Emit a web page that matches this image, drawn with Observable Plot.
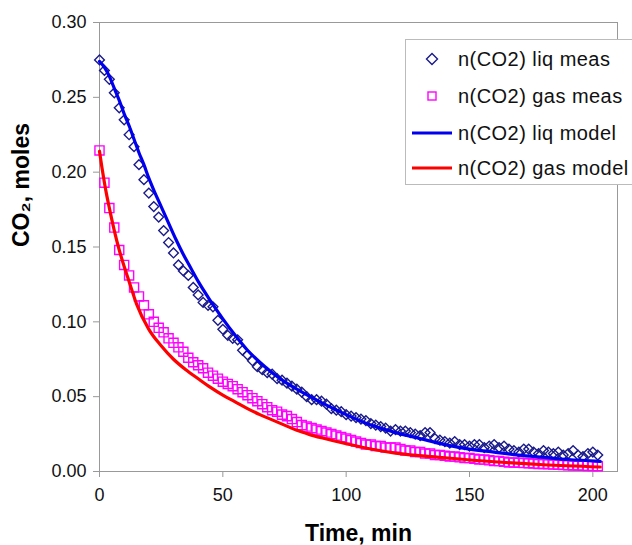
<!DOCTYPE html>
<html>
<head>
<meta charset="utf-8">
<script src="https://cdn.jsdelivr.net/npm/d3@7"></script>
<script src="https://cdn.jsdelivr.net/npm/@observablehq/plot@0.6"></script>
<style>
  html, body { margin: 0; padding: 0; background: #fff; overflow: hidden; }
  #wrap { position: relative; width: 632px; height: 545px; }
  #legend { position: absolute; left: 405px; top: 39px; width: 227px; height: 146px;
    border: 1px solid #bbb; border-right: none; background: #fff; box-sizing: border-box;
    font-family: "Liberation Sans", Arial, sans-serif; font-size: 20px; letter-spacing: 0.45px; color: #111; }
  .row { position: absolute; left: 0; height: 30px; display: flex; align-items: center; white-space: nowrap; }
  .row svg { width: 46px; height: 20px; margin-left: 6px; margin-right: 0px; flex: none; }
</style>
</head>
<body>
<div id="wrap"></div>
<script>
// measurement times (min)
const times = [0,2,4,6,8,10,12,14,16,18,20,22,24,26,28,30,32,34,36,38,40,42,44,46,48,50,52,54,56,58,60,62,64,66,68,70,72,74,76,78,80,82,84,86,88,90,92,94,96,98,100,102,104,106,108,110,112,114,116,118,120,122,124,126,128,130,132,134,136,138,140,142,144,146,148,150,152,154,156,158,160,162,164,166,168,170,172,174,176,178,180,182,184,186,188,190,192,194,196,198,200,202];

// n(CO2) liq meas
const liqMeas = [0.275,0.268,0.262,0.253,0.243,0.235,0.225,0.217,0.205,0.195,0.186,0.177,0.170,0.161,0.153,0.146,0.138,0.134,0.131,0.123,0.118,0.113,0.111,0.110,0.101,0.095,0.091,0.089,0.088,0.081,0.078,0.074,0.070,0.068,0.066,0.065,0.062,0.061,0.059,0.057,0.055,0.053,0.050,0.048,0.048,0.047,0.045,0.042,0.041,0.040,0.038,0.037,0.036,0.035,0.034,0.032,0.031,0.030,0.029,0.027,0.028,0.027,0.027,0.026,0.025,0.024,0.026,0.026,0.022,0.021,0.020,0.019,0.020,0.018,0.018,0.017,0.018,0.018,0.016,0.017,0.018,0.016,0.017,0.015,0.014,0.013,0.015,0.015,0.013,0.012,0.014,0.013,0.012,0.013,0.011,0.012,0.014,0.011,0.010,0.012,0.013,0.011];

// n(CO2) gas meas
const gasMeas = [0.2145,0.193,0.176,0.163,0.148,0.138,0.131,0.123,0.117,0.111,0.105,0.100,0.096,0.093,0.089,0.086,0.083,0.080,0.076,0.073,0.071,0.069,0.066,0.064,0.062,0.060,0.0585,0.057,0.055,0.053,0.051,0.049,0.047,0.045,0.043,0.041,0.040,0.038,0.037,0.035,0.033,0.031,0.030,0.029,0.028,0.027,0.026,0.025,0.024,0.023,0.022,0.021,0.020,0.019,0.018,0.018,0.017,0.017,0.016,0.016,0.016,0.015,0.014,0.014,0.013,0.013,0.012,0.012,0.011,0.011,0.0105,0.010,0.010,0.0095,0.009,0.009,0.0085,0.008,0.008,0.0075,0.007,0.007,0.0065,0.006,0.006,0.0058,0.0056,0.0055,0.0053,0.005,0.005,0.0048,0.0046,0.0045,0.0043,0.0042,0.004,0.004,0.0038,0.0037,0.0036,0.0035];

// n(CO2) liq model
const liqModelT = [0,2,4,6,8,10,12,14,16,18,20,22,25,28,31,34,37,40,45,50,55,60,65,70,75,80,90,100,110,120,130,140,150,160,170,180,190,203];
const liqModelY = [0.274,0.270,0.264,0.256,0.248,0.239,0.231,0.222,0.213,0.205,0.196,0.188,0.177,0.166,0.155,0.145,0.136,0.127,0.114,0.102,0.091,0.081,0.073,0.066,0.060,0.055,0.046,0.038,0.031,0.026,0.022,0.018,0.015,0.013,0.011,0.0095,0.008,0.0068];

// n(CO2) gas model
const gasModelT = [0,1,2,3,4,6,8,10,12,15,20,25,30,35,40,45,50,55,60,65,70,75,80,85,90,100,110,120,140,160,180,203];
const gasModelY = [0.214,0.203,0.193,0.184,0.176,0.161,0.148,0.137,0.127,0.112,0.095,0.084,0.075,0.068,0.062,0.0562,0.051,0.0465,0.042,0.038,0.0345,0.031,0.0275,0.0248,0.0225,0.0185,0.015,0.0123,0.0092,0.0065,0.0045,0.003];

const xTicks = [0, 50, 100, 150, 200];
const yTicks = [0, 0.05, 0.10, 0.15, 0.20, 0.25, 0.30];

const seriesNames = ["n(CO2) liq meas", "n(CO2) gas meas", "n(CO2) liq model", "n(CO2) gas model"];
const seriesColors = ["#1a1a8a", "#ff00ff", "#0000ee", "#ff0000"];

const liqMeasData = times.map((t, i) => ({t, v: liqMeas[i]}));
const gasMeasData = times.map((t, i) => ({t, v: gasMeas[i]}));
const liqModelData = liqModelT.map((t, i) => ({t, v: liqModelY[i]}));
const gasModelData = gasModelT.map((t, i) => ({t, v: gasModelY[i]}));

const font = "'Liberation Sans', Arial, sans-serif";

const chart = Plot.plot({
  width: 632,
  height: 545,
  marginLeft: 99,
  marginRight: 15,
  marginTop: 22,
  marginBottom: 74,
  style: {fontFamily: font, fontSize: "18px", color: "#111", background: "#fff"},
  x: {domain: [0, 210]},
  y: {domain: [0, 0.30]},
  marks: [
    Plot.frame({stroke: "#999"}),
    Plot.axisX({ticks: xTicks, tickSize: 6, tickPadding: 11, label: null, stroke: "#999", fill: "#111", fontSize: 18}),
    Plot.axisY({ticks: yTicks, tickSize: 6, tickPadding: 7, tickFormat: d3.format(".2f"), label: null, stroke: "#999", fill: "#111", fontSize: 18}),
    Plot.dot(liqMeasData, {x: "t", y: "v", symbol: "diamond2", r: 4.4, stroke: seriesColors[0], strokeWidth: 1.4, fill: "none"}),
    Plot.dot(gasMeasData, {x: "t", y: "v", symbol: "square2", r: 5.8, stroke: seriesColors[1], strokeWidth: 1.4, fill: "none"}),
    Plot.line(liqModelData, {x: "t", y: "v", stroke: seriesColors[2], strokeWidth: 3.2, curve: "monotone-x"}),
    Plot.line(gasModelData, {x: "t", y: "v", stroke: seriesColors[3], strokeWidth: 3.2, curve: "monotone-x"}),
    Plot.text(["Time, min"], {frameAnchor: "bottom", dy: 62.5, lineAnchor: "middle", fontSize: 23, fontWeight: "bold", fill: "#000"}),
    Plot.text(["CO₂, moles"], {frameAnchor: "left", dx: -78, rotate: -90, lineAnchor: "middle", fontSize: 23, fontWeight: "bold", fill: "#000"})
  ]
});

const wrap = document.getElementById("wrap");
wrap.appendChild(chart);

// legend
const legend = document.createElement("div");
legend.id = "legend";
const rowY = [4, 41, 78, 113];
seriesNames.forEach((name, i) => {
  const row = document.createElement("div");
  row.className = "row";
  row.style.top = rowY[i] + "px";
  let sym;
  if (i === 0) sym = `<polygon points="20,4.5 25.5,10 20,15.5 14.5,10" fill="none" stroke="${seriesColors[0]}" stroke-width="1.4"/>`;
  else if (i === 1) sym = `<rect x="16" y="6" width="8" height="8" fill="none" stroke="${seriesColors[1]}" stroke-width="1.4"/>`;
  else sym = `<line x1="0" y1="10" x2="40" y2="10" stroke="${seriesColors[i]}" stroke-width="3.2"/>`;
  row.innerHTML = `<svg viewBox="0 0 46 20">${sym}</svg><span>${name}</span>`;
  legend.appendChild(row);
});
wrap.appendChild(legend);
</script>
</body>
</html>
